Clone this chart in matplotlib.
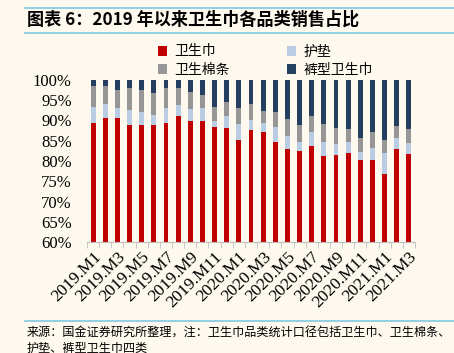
import numpy as np
import matplotlib
matplotlib.use("Agg")
import matplotlib.pyplot as plt
from matplotlib.patches import Patch

# Data (share of sales, %)
months = ["2019.M1", "2019.M2", "2019.M3", "2019.M4", "2019.M5", "2019.M6",
          "2019.M7", "2019.M8", "2019.M9", "2019.M10", "2019.M11", "2019.M12",
          "2020.M1", "2020.M2", "2020.M3", "2020.M4", "2020.M5", "2020.M6",
          "2020.M7", "2020.M8", "2020.M9", "2020.M10", "2020.M11", "2020.M12",
          "2021.M1", "2021.M2", "2021.M3"]

pads_napkin = [89.3, 90.5, 90.6, 89.0, 88.8, 89.0, 89.5, 91.0, 90.0, 90.0,
               88.4, 88.1, 85.2, 87.7, 87.1, 84.8, 83.0, 82.4, 83.6, 81.2,
               81.6, 82.0, 80.2, 80.2, 76.9, 83.0, 81.7]
liners = [4.1, 3.5, 2.5, 3.7, 3.3, 2.3, 3.6, 2.9, 2.9, 3.1,
          1.6, 3.0, 4.0, 2.5, 2.2, 3.6, 3.2, 2.4, 3.6, 3.6,
          2.7, 2.8, 1.9, 3.1, 5.1, 2.7, 2.8]
tampons = [5.0, 4.4, 4.4, 5.3, 5.5, 5.5, 5.0, 4.1, 4.1, 3.2,
           3.4, 3.5, 3.9, 3.8, 3.1, 3.6, 4.1, 4.0, 3.9, 4.3,
           3.9, 3.2, 3.6, 3.8, 3.2, 3.0, 3.5]
pants = [100 - a - b - c for a, b, c in zip(pads_napkin, liners, tampons)]

series_names = ["卫生巾", "护垫", "卫生棉条", "裤型卫生巾"]
colors = ["#C00000", "#B8CCE4", "#969696", "#243F60"]

plt.rcParams["font.family"] = ["Noto Sans CJK SC", "DejaVu Sans"]

bg = "#FEF9EE"
fig = plt.figure(figsize=(4.54, 3.53), dpi=100, facecolor=bg)
ax = fig.add_axes([87 / 454, 1 - 242 / 353, 328 / 454, 162 / 353], facecolor=bg)

x = np.arange(len(months))
bottom = np.zeros(len(months))
for vals, c in zip([pads_napkin, liners, tampons, pants], colors):
    ax.bar(x, vals, width=0.4, bottom=bottom, color=c, edgecolor="none")
    bottom += np.array(vals)

ax.set_ylim(60, 100)
ax.set_xlim(-0.5, len(months) - 0.5)
ax.set_yticks(np.arange(60, 101, 5))
ax.set_yticklabels([f"{v}%" for v in range(60, 101, 5)],
                   family="Liberation Serif", fontsize=12)
ax.tick_params(axis="y", length=0, pad=11)

ax.set_xticks(x[::2])
ax.set_xticklabels(months[::2], rotation=45, ha="right", rotation_mode="anchor",
                   family="Liberation Serif", fontsize=12.5)
ax.set_xticks(np.arange(-0.5, len(months), 1), minor=True)
ax.tick_params(axis="x", which="major", length=0, pad=5)
ax.tick_params(axis="x", which="minor", length=4, color="#BFBFBF")

for s in ["top", "right", "left"]:
    ax.spines[s].set_visible(False)
ax.spines["bottom"].set_color("#BFBFBF")

# legend
handles = [Patch(facecolor=c, edgecolor="none") for c in colors]
fig.legend([handles[0], handles[2], handles[1], handles[3]],
           [series_names[0], series_names[2], series_names[1], series_names[3]],
           ncol=2, loc="upper left", bbox_to_anchor=(145 / 454, 1 - 32 / 353),
           frameon=False, fontsize=10, handlelength=0.7, handleheight=0.7,
           handletextpad=0.5, columnspacing=4.1, labelspacing=0.3)

# title and lines
line_c = "#7EC8E3"
fig.add_artist(plt.Line2D([25 / 454, 1], [1 - 8 / 353] * 2, color=line_c, lw=1.2))
fig.add_artist(plt.Line2D([25 / 454, 1], [1 - 33 / 353] * 2, color=line_c, lw=1.2))
fig.text(27 / 454, 1 - 20 / 353, "图表 6：2019 年以来卫生巾各品类销售占比",
         fontsize=12.3, fontweight="bold", style="italic", va="center", ha="left")

fig.add_artist(plt.Line2D([25 / 454, 1], [1 - 321 / 353] * 2, color=line_c, lw=1.2))
fig.text(27 / 454, 1 - 333 / 353,
         "来源：国金证券研究所整理，注：卫生巾品类统计口径包括卫生巾、卫生棉条、",
         fontsize=8.7, va="center", ha="left")
fig.text(27 / 454, 1 - 348 / 353, "护垫、裤型卫生巾四类",
         fontsize=8.7, va="center", ha="left")

fig.savefig("out.png", dpi=100, facecolor=bg)
